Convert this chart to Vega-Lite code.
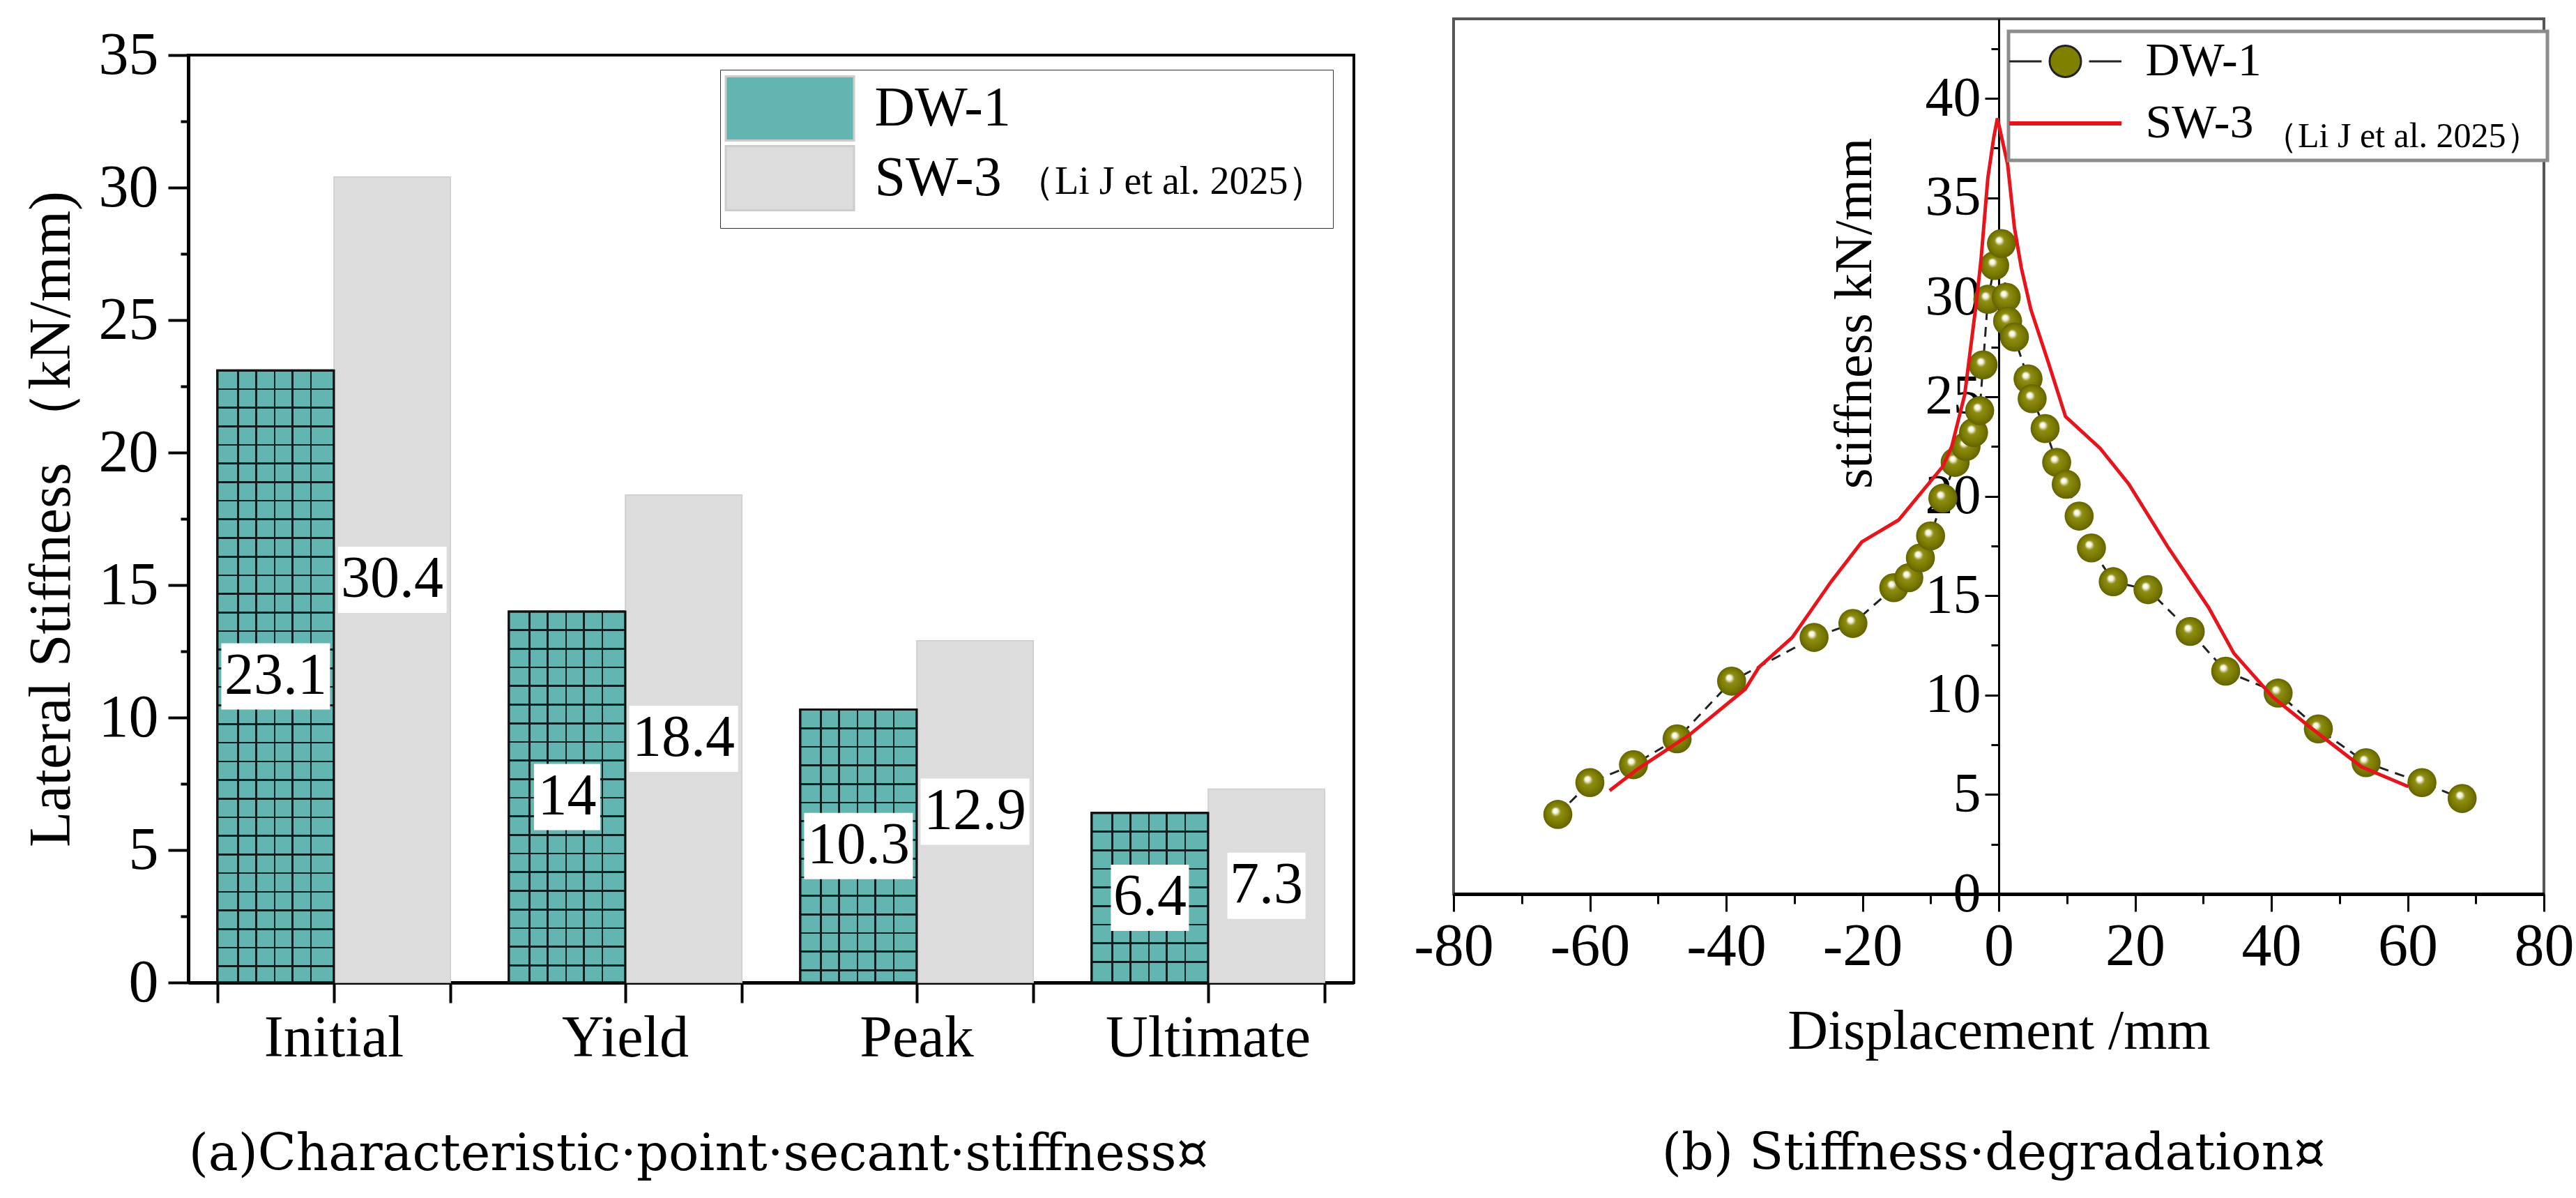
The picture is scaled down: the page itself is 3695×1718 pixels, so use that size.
{
  "$schema": "https://vega.github.io/schema/vega-lite/v6.json",
  "padding": {"left": 30, "top": 25, "right": 5, "bottom": 5},
  "background": "#ffffff",
  "config": {"view": {"stroke": null}, "axis": {"grid": false}, "legend": {"labelLimit": 0, "titleLimit": 0}},
  "datasets": {
    "bars": [
      {"stage": "Initial", "series": "DW-1", "value": 23.1},
      {"stage": "Initial", "series": "SW-3", "value": 30.4},
      {"stage": "Yield", "series": "DW-1", "value": 14},
      {"stage": "Yield", "series": "SW-3", "value": 18.4},
      {"stage": "Peak", "series": "DW-1", "value": 10.3},
      {"stage": "Peak", "series": "SW-3", "value": 12.9},
      {"stage": "Ultimate", "series": "DW-1", "value": 6.4},
      {"stage": "Ultimate", "series": "SW-3", "value": 7.3}
    ],
    "curve": [
      {"series": "DW-1", "disp": -64.7, "k": 4.0},
      {"series": "DW-1", "disp": -60.0, "k": 5.6},
      {"series": "DW-1", "disp": -53.6, "k": 6.5},
      {"series": "DW-1", "disp": -47.2, "k": 7.8},
      {"series": "DW-1", "disp": -39.2, "k": 10.7},
      {"series": "DW-1", "disp": -27.1, "k": 12.9},
      {"series": "DW-1", "disp": -21.4, "k": 13.6},
      {"series": "DW-1", "disp": -15.4, "k": 15.4},
      {"series": "DW-1", "disp": -13.2, "k": 15.9},
      {"series": "DW-1", "disp": -11.5, "k": 16.9},
      {"series": "DW-1", "disp": -10.0, "k": 18.0},
      {"series": "DW-1", "disp": -8.2, "k": 19.9},
      {"series": "DW-1", "disp": -6.4, "k": 21.7},
      {"series": "DW-1", "disp": -4.8, "k": 22.5},
      {"series": "DW-1", "disp": -3.7, "k": 23.2},
      {"series": "DW-1", "disp": -2.8, "k": 24.3},
      {"series": "DW-1", "disp": -2.3, "k": 26.6},
      {"series": "DW-1", "disp": -1.6, "k": 29.9},
      {"series": "DW-1", "disp": -0.6, "k": 31.6},
      {"series": "DW-1", "disp": 0.4, "k": 32.7},
      {"series": "DW-1", "disp": 1.1, "k": 30.0},
      {"series": "DW-1", "disp": 1.3, "k": 28.8},
      {"series": "DW-1", "disp": 2.3, "k": 28.0},
      {"series": "DW-1", "disp": 4.3, "k": 25.9},
      {"series": "DW-1", "disp": 4.9, "k": 24.9},
      {"series": "DW-1", "disp": 6.8, "k": 23.4},
      {"series": "DW-1", "disp": 8.5, "k": 21.7},
      {"series": "DW-1", "disp": 9.9, "k": 20.6},
      {"series": "DW-1", "disp": 11.8, "k": 19.0},
      {"series": "DW-1", "disp": 13.6, "k": 17.4},
      {"series": "DW-1", "disp": 16.8, "k": 15.7},
      {"series": "DW-1", "disp": 21.9, "k": 15.3},
      {"series": "DW-1", "disp": 28.1, "k": 13.2},
      {"series": "DW-1", "disp": 33.3, "k": 11.2},
      {"series": "DW-1", "disp": 41.0, "k": 10.1},
      {"series": "DW-1", "disp": 46.9, "k": 8.3},
      {"series": "DW-1", "disp": 53.9, "k": 6.6},
      {"series": "DW-1", "disp": 62.1, "k": 5.6},
      {"series": "DW-1", "disp": 68.0, "k": 4.8},
      {"series": "SW-3", "disp": -57.1, "k": 5.2},
      {"series": "SW-3", "disp": -52.9, "k": 6.3},
      {"series": "SW-3", "disp": -45.4, "k": 8.0},
      {"series": "SW-3", "disp": -37.2, "k": 10.3},
      {"series": "SW-3", "disp": -35.2, "k": 11.4},
      {"series": "SW-3", "disp": -30.3, "k": 12.9},
      {"series": "SW-3", "disp": -24.6, "k": 15.7},
      {"series": "SW-3", "disp": -20.1, "k": 17.7},
      {"series": "SW-3", "disp": -14.7, "k": 18.8},
      {"series": "SW-3", "disp": -8.2, "k": 21.5},
      {"series": "SW-3", "disp": -6.9, "k": 22.5},
      {"series": "SW-3", "disp": -5.0, "k": 25.1},
      {"series": "SW-3", "disp": -3.3, "k": 29.7},
      {"series": "SW-3", "disp": -2.6, "k": 31.9},
      {"series": "SW-3", "disp": -1.6, "k": 36.0},
      {"series": "SW-3", "disp": -0.75, "k": 38.0},
      {"series": "SW-3", "disp": -0.2, "k": 39.0},
      {"series": "SW-3", "disp": 1.3, "k": 36.7},
      {"series": "SW-3", "disp": 2.3, "k": 33.5},
      {"series": "SW-3", "disp": 3.3, "k": 31.5},
      {"series": "SW-3", "disp": 4.7, "k": 29.4},
      {"series": "SW-3", "disp": 7.3, "k": 26.7},
      {"series": "SW-3", "disp": 9.8, "k": 24.0},
      {"series": "SW-3", "disp": 14.9, "k": 22.4},
      {"series": "SW-3", "disp": 19.1, "k": 20.6},
      {"series": "SW-3", "disp": 24.9, "k": 17.4},
      {"series": "SW-3", "disp": 30.8, "k": 14.4},
      {"series": "SW-3", "disp": 34.5, "k": 12.1},
      {"series": "SW-3", "disp": 40.2, "k": 9.9},
      {"series": "SW-3", "disp": 46.0, "k": 8.3},
      {"series": "SW-3", "disp": 53.2, "k": 6.4},
      {"series": "SW-3", "disp": 60.1, "k": 5.4}
    ]
  },
  "spacing": 81,
  "resolve": {"scale": {"fill": "independent", "stroke": "independent", "color": "independent"}, "legend": {"fill": "independent", "stroke": "independent"}},
  "hconcat": [
    {
      "spacing": 0,
      "vconcat": [
        {
          "width": 1672,
          "height": 7,
          "data": {"values": [{"blank": 0}]},
          "mark": {"type": "point", "opacity": 0},
          "encoding": {}
        },
        {
          "width": 1672,
          "height": 1330,
          "data": {"name": "bars"},
          "view": {"stroke": "#000000", "strokeWidth": 4},
          "title": {"text": "(a)Characteristic·point·secant·stiffness¤", "orient": "bottom", "anchor": "middle", "frame": "bounds", "font": "DejaVu Serif", "fontSize": 72, "fontWeight": "normal", "color": "#000000", "offset": 90, "dx": 15},
          "resolve": {"axis": {"x": "independent", "y": "independent"}},
          "layer": [
            {
              "mark": {"type": "bar"},
              "encoding": {
                "x": {"field": "stage", "type": "nominal", "sort": ["Initial", "Yield", "Peak", "Ultimate"], "scale": {"paddingInner": 0.2, "paddingOuter": 0.1},
                  "axis": {"orient": "bottom", "labelAngle": 0, "labelLimit": 600, "labelFont": "Liberation Serif", "labelFontSize": 84, "labelColor": "#000000", "labelPadding": 10, "tickSize": 29, "tickWidth": 4, "tickColor": "#000000", "domainWidth": 5, "domainColor": "#000000", "title": null, "grid": false}},
                "xOffset": {"field": "series", "type": "nominal", "scale": {"paddingInner": 0, "paddingOuter": 0}},
                "y": {"field": "value", "type": "quantitative", "scale": {"domain": [0, 35], "nice": false},
                  "axis": {"values": [0, 5, 10, 15, 20, 25, 30, 35], "tickSize": 29, "tickWidth": 4, "tickColor": "#000000", "domainWidth": 5, "domainColor": "#000000", "labelFont": "Liberation Serif", "labelFontSize": 86, "labelColor": "#000000", "labelPadding": 14, "labelFlush": false, "labelOverlap": false, "grid": false, "title": "Lateral Stiffness （kN/mm)", "titleFont": "Liberation Serif", "titleFontSize": 84, "titleFontWeight": "normal", "titleColor": "#000000", "titleX": -153}},
                "fill": {"field": "series", "type": "nominal", "scale": {"range": ["#62b5b0", "#dcdcdc"]},
                  "legend": {"orient": "none", "legendX": 763, "legendY": 73, "direction": "vertical", "title": ["（Li J et al. 2025）\u2003", "\u2003"], "titleLineHeight": 30, "titleOrient": "right", "titleAngle": 0, "titleAnchor": "end", "titleBaseline": "alphabetic", "titleFont": "Liberation Serif", "titleFontSize": 56, "titleFontWeight": "normal", "titleColor": "#000000", "titlePadding": 7, "labelFont": "Liberation Serif", "labelFontSize": 80, "labelColor": "#000000", "symbolType": "M-2,-1H2V1H-2Z", "symbolSize": 8464, "symbolStrokeWidth": 3, "symbolOffset": 44.5, "labelOffset": 74, "rowPadding": -10, "padding": 8, "strokeColor": "#333333", "fillColor": "#ffffff",
                    "encode": {"symbols": {"update": {"stroke": {"signal": "datum.value === 'DW-1' ? '#111111' : '#d0d0d0'"}, "strokeWidth": {"value": 3}, "opacity": {"value": 1}}}, "legend": {"update": {"strokeWidth": {"value": 3}}}}}},
                "stroke": {"condition": {"test": "datum.series === 'DW-1'", "value": "#111111"}, "value": "#cccccc"},
                "strokeWidth": {"condition": {"test": "datum.series === 'DW-1'", "value": 3}, "value": 1.5}
              }
            },
            {
              "transform": [{"filter": "datum.series === 'DW-1'"}],
              "mark": {"type": "bar", "fill": {"gradient": "linear", "x1": 0, "y1": 0, "x2": 1, "y2": 0, "stops": [
                      {"offset": 0.168, "color": "transparent"}, {"offset": 0.168, "color": "#0b2020"}, {"offset": 0.184, "color": "#0b2020"}, {"offset": 0.184, "color": "transparent"},
                      {"offset": 0.325, "color": "transparent"}, {"offset": 0.325, "color": "#0b2020"}, {"offset": 0.341, "color": "#0b2020"}, {"offset": 0.341, "color": "transparent"},
                      {"offset": 0.483, "color": "transparent"}, {"offset": 0.483, "color": "#0b2020"}, {"offset": 0.499, "color": "#0b2020"}, {"offset": 0.499, "color": "transparent"},
                      {"offset": 0.637, "color": "transparent"}, {"offset": 0.637, "color": "#0b2020"}, {"offset": 0.653, "color": "#0b2020"}, {"offset": 0.653, "color": "transparent"},
                      {"offset": 0.795, "color": "transparent"}, {"offset": 0.795, "color": "#0b2020"}, {"offset": 0.811, "color": "#0b2020"}, {"offset": 0.811, "color": "transparent"}]}},
              "encoding": {
                "x": {"field": "stage", "type": "nominal", "sort": ["Initial", "Yield", "Peak", "Ultimate"], "axis": null},
                "xOffset": {"field": "series", "type": "nominal"},
                "y": {"field": "value", "type": "quantitative", "axis": null}
              }
            },
            {
              "transform": [{"filter": "datum.series === 'DW-1'"}],
              "mark": {"type": "bar", "stroke": "#111111", "strokeWidth": 3},
              "encoding": {
                "x": {"field": "stage", "type": "nominal", "sort": ["Initial", "Yield", "Peak", "Ultimate"], "axis": null},
                "xOffset": {"field": "series", "type": "nominal"},
                "y": {"field": "value", "type": "quantitative", "axis": {"orient": "left", "values": [2.5, 7.5, 12.5, 17.5, 22.5, 27.5, 32.5], "labels": false, "domain": false, "ticks": true, "tickSize": 11, "tickWidth": 4, "tickColor": "#000000", "title": null, "grid": false}},
                "fill": {"condition": [
                  {"test": "datum.stage === 'Initial'", "value": {"gradient": "linear", "x1": 0, "y1": 0, "x2": 0, "y2": 1, "stops": [
                    {"offset": 0.0289, "color": "transparent"}, {"offset": 0.0289, "color": "#0b2020"}, {"offset": 0.0319, "color": "#0b2020"}, {"offset": 0.0319, "color": "transparent"},
                    {"offset": 0.0593, "color": "transparent"}, {"offset": 0.0593, "color": "#0b2020"}, {"offset": 0.0623, "color": "#0b2020"}, {"offset": 0.0623, "color": "transparent"},
                    {"offset": 0.0898, "color": "transparent"}, {"offset": 0.0898, "color": "#0b2020"}, {"offset": 0.0928, "color": "#0b2020"}, {"offset": 0.0928, "color": "transparent"},
                    {"offset": 0.1202, "color": "transparent"}, {"offset": 0.1202, "color": "#0b2020"}, {"offset": 0.1232, "color": "#0b2020"}, {"offset": 0.1232, "color": "transparent"},
                    {"offset": 0.1506, "color": "transparent"}, {"offset": 0.1506, "color": "#0b2020"}, {"offset": 0.1536, "color": "#0b2020"}, {"offset": 0.1536, "color": "transparent"},
                    {"offset": 0.1810, "color": "transparent"}, {"offset": 0.1810, "color": "#0b2020"}, {"offset": 0.1840, "color": "#0b2020"}, {"offset": 0.1840, "color": "transparent"},
                    {"offset": 0.2114, "color": "transparent"}, {"offset": 0.2114, "color": "#0b2020"}, {"offset": 0.2144, "color": "#0b2020"}, {"offset": 0.2144, "color": "transparent"},
                    {"offset": 0.2418, "color": "transparent"}, {"offset": 0.2418, "color": "#0b2020"}, {"offset": 0.2448, "color": "#0b2020"}, {"offset": 0.2448, "color": "transparent"},
                    {"offset": 0.2723, "color": "transparent"}, {"offset": 0.2723, "color": "#0b2020"}, {"offset": 0.2753, "color": "#0b2020"}, {"offset": 0.2753, "color": "transparent"},
                    {"offset": 0.3027, "color": "transparent"}, {"offset": 0.3027, "color": "#0b2020"}, {"offset": 0.3057, "color": "#0b2020"}, {"offset": 0.3057, "color": "transparent"},
                    {"offset": 0.3331, "color": "transparent"}, {"offset": 0.3331, "color": "#0b2020"}, {"offset": 0.3361, "color": "#0b2020"}, {"offset": 0.3361, "color": "transparent"},
                    {"offset": 0.3635, "color": "transparent"}, {"offset": 0.3635, "color": "#0b2020"}, {"offset": 0.3665, "color": "#0b2020"}, {"offset": 0.3665, "color": "transparent"},
                    {"offset": 0.3939, "color": "transparent"}, {"offset": 0.3939, "color": "#0b2020"}, {"offset": 0.3969, "color": "#0b2020"}, {"offset": 0.3969, "color": "transparent"},
                    {"offset": 0.4243, "color": "transparent"}, {"offset": 0.4243, "color": "#0b2020"}, {"offset": 0.4273, "color": "#0b2020"}, {"offset": 0.4273, "color": "transparent"},
                    {"offset": 0.4548, "color": "transparent"}, {"offset": 0.4548, "color": "#0b2020"}, {"offset": 0.4578, "color": "#0b2020"}, {"offset": 0.4578, "color": "transparent"},
                    {"offset": 0.4852, "color": "transparent"}, {"offset": 0.4852, "color": "#0b2020"}, {"offset": 0.4882, "color": "#0b2020"}, {"offset": 0.4882, "color": "transparent"},
                    {"offset": 0.5156, "color": "transparent"}, {"offset": 0.5156, "color": "#0b2020"}, {"offset": 0.5186, "color": "#0b2020"}, {"offset": 0.5186, "color": "transparent"},
                    {"offset": 0.5460, "color": "transparent"}, {"offset": 0.5460, "color": "#0b2020"}, {"offset": 0.5490, "color": "#0b2020"}, {"offset": 0.5490, "color": "transparent"},
                    {"offset": 0.5764, "color": "transparent"}, {"offset": 0.5764, "color": "#0b2020"}, {"offset": 0.5794, "color": "#0b2020"}, {"offset": 0.5794, "color": "transparent"},
                    {"offset": 0.6068, "color": "transparent"}, {"offset": 0.6068, "color": "#0b2020"}, {"offset": 0.6098, "color": "#0b2020"}, {"offset": 0.6098, "color": "transparent"},
                    {"offset": 0.6373, "color": "transparent"}, {"offset": 0.6373, "color": "#0b2020"}, {"offset": 0.6403, "color": "#0b2020"}, {"offset": 0.6403, "color": "transparent"},
                    {"offset": 0.6677, "color": "transparent"}, {"offset": 0.6677, "color": "#0b2020"}, {"offset": 0.6707, "color": "#0b2020"}, {"offset": 0.6707, "color": "transparent"},
                    {"offset": 0.6981, "color": "transparent"}, {"offset": 0.6981, "color": "#0b2020"}, {"offset": 0.7011, "color": "#0b2020"}, {"offset": 0.7011, "color": "transparent"},
                    {"offset": 0.7285, "color": "transparent"}, {"offset": 0.7285, "color": "#0b2020"}, {"offset": 0.7315, "color": "#0b2020"}, {"offset": 0.7315, "color": "transparent"},
                    {"offset": 0.7589, "color": "transparent"}, {"offset": 0.7589, "color": "#0b2020"}, {"offset": 0.7619, "color": "#0b2020"}, {"offset": 0.7619, "color": "transparent"},
                    {"offset": 0.7893, "color": "transparent"}, {"offset": 0.7893, "color": "#0b2020"}, {"offset": 0.7923, "color": "#0b2020"}, {"offset": 0.7923, "color": "transparent"},
                    {"offset": 0.8198, "color": "transparent"}, {"offset": 0.8198, "color": "#0b2020"}, {"offset": 0.8228, "color": "#0b2020"}, {"offset": 0.8228, "color": "transparent"},
                    {"offset": 0.8502, "color": "transparent"}, {"offset": 0.8502, "color": "#0b2020"}, {"offset": 0.8532, "color": "#0b2020"}, {"offset": 0.8532, "color": "transparent"},
                    {"offset": 0.8806, "color": "transparent"}, {"offset": 0.8806, "color": "#0b2020"}, {"offset": 0.8836, "color": "#0b2020"}, {"offset": 0.8836, "color": "transparent"},
                    {"offset": 0.9110, "color": "transparent"}, {"offset": 0.9110, "color": "#0b2020"}, {"offset": 0.9140, "color": "#0b2020"}, {"offset": 0.9140, "color": "transparent"},
                    {"offset": 0.9414, "color": "transparent"}, {"offset": 0.9414, "color": "#0b2020"}, {"offset": 0.9444, "color": "#0b2020"}, {"offset": 0.9444, "color": "transparent"},
                    {"offset": 0.9718, "color": "transparent"}, {"offset": 0.9718, "color": "#0b2020"}, {"offset": 0.9748, "color": "#0b2020"}, {"offset": 0.9748, "color": "transparent"}]}},
                  {"test": "datum.stage === 'Yield'", "value": {"gradient": "linear", "x1": 0, "y1": 0, "x2": 0, "y2": 1, "stops": [
                    {"offset": 0.0477, "color": "transparent"}, {"offset": 0.0477, "color": "#0b2020"}, {"offset": 0.0527, "color": "#0b2020"}, {"offset": 0.0527, "color": "transparent"},
                    {"offset": 0.0979, "color": "transparent"}, {"offset": 0.0979, "color": "#0b2020"}, {"offset": 0.1029, "color": "#0b2020"}, {"offset": 0.1029, "color": "transparent"},
                    {"offset": 0.1481, "color": "transparent"}, {"offset": 0.1481, "color": "#0b2020"}, {"offset": 0.1531, "color": "#0b2020"}, {"offset": 0.1531, "color": "transparent"},
                    {"offset": 0.1983, "color": "transparent"}, {"offset": 0.1983, "color": "#0b2020"}, {"offset": 0.2033, "color": "#0b2020"}, {"offset": 0.2033, "color": "transparent"},
                    {"offset": 0.2484, "color": "transparent"}, {"offset": 0.2484, "color": "#0b2020"}, {"offset": 0.2534, "color": "#0b2020"}, {"offset": 0.2534, "color": "transparent"},
                    {"offset": 0.2986, "color": "transparent"}, {"offset": 0.2986, "color": "#0b2020"}, {"offset": 0.3036, "color": "#0b2020"}, {"offset": 0.3036, "color": "transparent"},
                    {"offset": 0.3488, "color": "transparent"}, {"offset": 0.3488, "color": "#0b2020"}, {"offset": 0.3538, "color": "#0b2020"}, {"offset": 0.3538, "color": "transparent"},
                    {"offset": 0.3990, "color": "transparent"}, {"offset": 0.3990, "color": "#0b2020"}, {"offset": 0.4040, "color": "#0b2020"}, {"offset": 0.4040, "color": "transparent"},
                    {"offset": 0.4492, "color": "transparent"}, {"offset": 0.4492, "color": "#0b2020"}, {"offset": 0.4542, "color": "#0b2020"}, {"offset": 0.4542, "color": "transparent"},
                    {"offset": 0.4994, "color": "transparent"}, {"offset": 0.4994, "color": "#0b2020"}, {"offset": 0.5044, "color": "#0b2020"}, {"offset": 0.5044, "color": "transparent"},
                    {"offset": 0.5496, "color": "transparent"}, {"offset": 0.5496, "color": "#0b2020"}, {"offset": 0.5546, "color": "#0b2020"}, {"offset": 0.5546, "color": "transparent"},
                    {"offset": 0.5998, "color": "transparent"}, {"offset": 0.5998, "color": "#0b2020"}, {"offset": 0.6048, "color": "#0b2020"}, {"offset": 0.6048, "color": "transparent"},
                    {"offset": 0.6499, "color": "transparent"}, {"offset": 0.6499, "color": "#0b2020"}, {"offset": 0.6549, "color": "#0b2020"}, {"offset": 0.6549, "color": "transparent"},
                    {"offset": 0.7001, "color": "transparent"}, {"offset": 0.7001, "color": "#0b2020"}, {"offset": 0.7051, "color": "#0b2020"}, {"offset": 0.7051, "color": "transparent"},
                    {"offset": 0.7503, "color": "transparent"}, {"offset": 0.7503, "color": "#0b2020"}, {"offset": 0.7553, "color": "#0b2020"}, {"offset": 0.7553, "color": "transparent"},
                    {"offset": 0.8005, "color": "transparent"}, {"offset": 0.8005, "color": "#0b2020"}, {"offset": 0.8055, "color": "#0b2020"}, {"offset": 0.8055, "color": "transparent"},
                    {"offset": 0.8507, "color": "transparent"}, {"offset": 0.8507, "color": "#0b2020"}, {"offset": 0.8557, "color": "#0b2020"}, {"offset": 0.8557, "color": "transparent"},
                    {"offset": 0.9009, "color": "transparent"}, {"offset": 0.9009, "color": "#0b2020"}, {"offset": 0.9059, "color": "#0b2020"}, {"offset": 0.9059, "color": "transparent"},
                    {"offset": 0.9511, "color": "transparent"}, {"offset": 0.9511, "color": "#0b2020"}, {"offset": 0.9561, "color": "#0b2020"}, {"offset": 0.9561, "color": "transparent"}]}},
                  {"test": "datum.stage === 'Peak'", "value": {"gradient": "linear", "x1": 0, "y1": 0, "x2": 0, "y2": 1, "stops": [
                    {"offset": 0.0648, "color": "transparent"}, {"offset": 0.0648, "color": "#0b2020"}, {"offset": 0.0716, "color": "#0b2020"}, {"offset": 0.0716, "color": "transparent"},
                    {"offset": 0.1330, "color": "transparent"}, {"offset": 0.1330, "color": "#0b2020"}, {"offset": 0.1398, "color": "#0b2020"}, {"offset": 0.1398, "color": "transparent"},
                    {"offset": 0.2013, "color": "transparent"}, {"offset": 0.2013, "color": "#0b2020"}, {"offset": 0.2081, "color": "#0b2020"}, {"offset": 0.2081, "color": "transparent"},
                    {"offset": 0.2695, "color": "transparent"}, {"offset": 0.2695, "color": "#0b2020"}, {"offset": 0.2763, "color": "#0b2020"}, {"offset": 0.2763, "color": "transparent"},
                    {"offset": 0.3377, "color": "transparent"}, {"offset": 0.3377, "color": "#0b2020"}, {"offset": 0.3445, "color": "#0b2020"}, {"offset": 0.3445, "color": "transparent"},
                    {"offset": 0.4059, "color": "transparent"}, {"offset": 0.4059, "color": "#0b2020"}, {"offset": 0.4127, "color": "#0b2020"}, {"offset": 0.4127, "color": "transparent"},
                    {"offset": 0.4741, "color": "transparent"}, {"offset": 0.4741, "color": "#0b2020"}, {"offset": 0.4809, "color": "#0b2020"}, {"offset": 0.4809, "color": "transparent"},
                    {"offset": 0.5423, "color": "transparent"}, {"offset": 0.5423, "color": "#0b2020"}, {"offset": 0.5491, "color": "#0b2020"}, {"offset": 0.5491, "color": "transparent"},
                    {"offset": 0.6106, "color": "transparent"}, {"offset": 0.6106, "color": "#0b2020"}, {"offset": 0.6174, "color": "#0b2020"}, {"offset": 0.6174, "color": "transparent"},
                    {"offset": 0.6788, "color": "transparent"}, {"offset": 0.6788, "color": "#0b2020"}, {"offset": 0.6856, "color": "#0b2020"}, {"offset": 0.6856, "color": "transparent"},
                    {"offset": 0.7470, "color": "transparent"}, {"offset": 0.7470, "color": "#0b2020"}, {"offset": 0.7538, "color": "#0b2020"}, {"offset": 0.7538, "color": "transparent"},
                    {"offset": 0.8152, "color": "transparent"}, {"offset": 0.8152, "color": "#0b2020"}, {"offset": 0.8220, "color": "#0b2020"}, {"offset": 0.8220, "color": "transparent"},
                    {"offset": 0.8834, "color": "transparent"}, {"offset": 0.8834, "color": "#0b2020"}, {"offset": 0.8902, "color": "#0b2020"}, {"offset": 0.8902, "color": "transparent"},
                    {"offset": 0.9516, "color": "transparent"}, {"offset": 0.9516, "color": "#0b2020"}, {"offset": 0.9584, "color": "#0b2020"}, {"offset": 0.9584, "color": "transparent"}]}}
                ],
                "value": {"gradient": "linear", "x1": 0, "y1": 0, "x2": 0, "y2": 1, "stops": [
                    {"offset": 0.1043, "color": "transparent"}, {"offset": 0.1043, "color": "#0b2020"}, {"offset": 0.1153, "color": "#0b2020"}, {"offset": 0.1153, "color": "transparent"},
                    {"offset": 0.2141, "color": "transparent"}, {"offset": 0.2141, "color": "#0b2020"}, {"offset": 0.2251, "color": "#0b2020"}, {"offset": 0.2251, "color": "transparent"},
                    {"offset": 0.3239, "color": "transparent"}, {"offset": 0.3239, "color": "#0b2020"}, {"offset": 0.3349, "color": "#0b2020"}, {"offset": 0.3349, "color": "transparent"},
                    {"offset": 0.4336, "color": "transparent"}, {"offset": 0.4336, "color": "#0b2020"}, {"offset": 0.4446, "color": "#0b2020"}, {"offset": 0.4446, "color": "transparent"},
                    {"offset": 0.5434, "color": "transparent"}, {"offset": 0.5434, "color": "#0b2020"}, {"offset": 0.5544, "color": "#0b2020"}, {"offset": 0.5544, "color": "transparent"},
                    {"offset": 0.6532, "color": "transparent"}, {"offset": 0.6532, "color": "#0b2020"}, {"offset": 0.6642, "color": "#0b2020"}, {"offset": 0.6642, "color": "transparent"},
                    {"offset": 0.7630, "color": "transparent"}, {"offset": 0.7630, "color": "#0b2020"}, {"offset": 0.7740, "color": "#0b2020"}, {"offset": 0.7740, "color": "transparent"},
                    {"offset": 0.8728, "color": "transparent"}, {"offset": 0.8728, "color": "#0b2020"}, {"offset": 0.8838, "color": "#0b2020"}, {"offset": 0.8838, "color": "transparent"}]}}
              }
            },
            {
              "mark": {"type": "tick", "thickness": 95, "color": "#ffffff", "opacity": 1},
              "encoding": {
                "x": {"field": "stage", "type": "nominal", "sort": ["Initial", "Yield", "Peak", "Ultimate"], "axis": null},
                "xOffset": {"field": "series", "type": "nominal"},
                "y": {"field": "value", "type": "quantitative", "stack": "zero", "bandPosition": 0.5, "axis": null},
                "size": {"condition": [{"test": "length(toString(datum.value)) <= 2", "value": 95}, {"test": "length(toString(datum.value)) === 3", "value": 112}], "value": 156}
              }
            },
            {
              "mark": {"type": "text", "font": "Liberation Serif", "fontSize": 84, "baseline": "middle", "align": "center", "color": "#000000"},
              "encoding": {
                "x": {"field": "stage", "type": "nominal", "sort": ["Initial", "Yield", "Peak", "Ultimate"], "axis": {"orient": "bottom", "tickBand": "extent", "labels": false, "domain": false, "ticks": true, "tickSize": 29, "tickWidth": 4, "tickColor": "#000000", "title": null, "grid": false}},
                "xOffset": {"field": "series", "type": "nominal"},
                "y": {"field": "value", "type": "quantitative", "stack": "zero", "bandPosition": 0.5, "axis": null},
                "text": {"field": "value", "type": "quantitative"}
              }
            }
          ]
        }
      ]
    },
    {
      "width": 1564,
      "height": 1255,
      "data": {"name": "curve"},
      "view": {"stroke": "#555555", "strokeWidth": 4},
      "title": {"text": "(b) Stiffness·degradation¤", "orient": "bottom", "anchor": "middle", "frame": "bounds", "font": "DejaVu Serif", "fontSize": 72, "fontWeight": "normal", "color": "#000000", "offset": 101},
      "resolve": {"axis": {"x": "independent", "y": "independent"}},
      "layer": [
        {
          "transform": [{"filter": "datum.series === 'DW-1'"}],
          "mark": {"type": "line", "strokeDash": [14, 10], "strokeWidth": 3},
          "encoding": {
            "x": {"field": "disp", "type": "quantitative", "scale": {"domain": [-80, 80], "nice": false, "zero": false},
              "axis": {"orient": "bottom", "values": [-80, -60, -40, -20, 0, 20, 40, 60, 80], "labelExpr": "toString(datum.value)", "tickSize": 25, "tickWidth": 3, "tickColor": "#000000", "domainWidth": 5, "domainColor": "#000000", "labelFont": "Liberation Serif", "labelFontSize": 86, "labelColor": "#000000", "labelPadding": 8, "labelFlush": false, "labelOverlap": false, "grid": false, "title": "Displacement /mm", "titleFont": "Liberation Serif", "titleFontSize": 80, "titleFontWeight": "normal", "titleColor": "#000000", "titlePadding": 40}},
            "y": {"field": "k", "type": "quantitative", "scale": {"domain": [0, 44], "nice": false},
              "axis": {"orient": "left", "values": [0, 5, 10, 15, 20, 25, 30, 35, 40], "tickSize": 20, "tickWidth": 3, "tickColor": "#000000", "domainWidth": 3, "domainColor": "#000000", "offset": -782, "labelFont": "Liberation Serif", "labelFontSize": 80, "labelColor": "#000000", "labelPadding": 6, "labelFlush": false, "labelOverlap": false, "grid": false, "title": "stiffness kN/mm", "titleFont": "Liberation Serif", "titleFontSize": 76, "titleFontWeight": "normal", "titleColor": "#000000", "titleX": -168, "titleY": 422}},
            "stroke": {"field": "series", "type": "nominal", "scale": {"range": ["#222222", "#e8141c"]},
              "legend": {"orient": "none", "legendX": 796, "legendY": 18, "direction": "vertical", "title": "（Li J et al. 2025）\u2002", "titleOrient": "right", "titleAngle": 0, "titleAnchor": "end", "titleBaseline": "alphabetic", "titleFont": "Liberation Serif", "titleFontSize": 50, "titleFontWeight": "normal", "titleColor": "#000000", "titlePadding": 2, "labelFont": "Liberation Serif", "labelFontSize": 68, "labelColor": "#000000", "symbolType": "M-2,0H2", "symbolSize": 6480, "symbolStrokeWidth": 3, "symbolOffset": 38.5, "labelOffset": 81, "rowPadding": 21, "padding": 9, "strokeColor": "#8c8c8c", "fillColor": "#ffffff",
                "encode": {"symbols": {"update": {"shape": {"signal": "datum.value === 'DW-1' ? 'M-2,0H-0.845M0.845,0H2M-0.559,0A0.559,0.559 0 1,1 0.559,0A0.559,0.559 0 1,1 -0.559,0Z' : 'M-2,0H2'"}, "fill": {"signal": "datum.value === 'DW-1' ? '#7f7f00' : 'transparent'"}, "stroke": {"signal": "datum.value === 'DW-1' ? '#333333' : '#e8141c'"}, "strokeWidth": {"signal": "datum.value === 'DW-1' ? 3 : 6"}, "strokeDash": {"value": []}, "opacity": {"value": 1}}}, "legend": {"update": {"strokeWidth": {"value": 5}}}}}}
          }
        },
        {
          "transform": [{"filter": "datum.series === 'DW-1'"}],
          "mark": {"type": "circle", "size": 1735, "opacity": 1, "fill": {"gradient": "radial", "x1": 0.4, "y1": 0.36, "r1": 0, "x2": 0.5, "y2": 0.5, "r2": 0.5, "stops": [{"offset": 0, "color": "#ffffff"}, {"offset": 0.16, "color": "#f4f4dc"}, {"offset": 0.34, "color": "#8e8e16"}, {"offset": 0.72, "color": "#7a7a00"}, {"offset": 1, "color": "#626200"}]}},
          "encoding": {
            "x": {"field": "disp", "type": "quantitative", "axis": {"orient": "bottom", "values": [-70, -50, -30, -10, 10, 30, 50, 70], "labels": false, "domain": false, "ticks": true, "tickSize": 14, "tickWidth": 3, "tickColor": "#000000", "title": null, "grid": false}},
            "y": {"field": "k", "type": "quantitative", "axis": {"orient": "left", "values": [2.5, 7.5, 12.5, 17.5, 22.5, 27.5, 32.5, 37.5, 42.5], "offset": -782, "labels": false, "domain": false, "ticks": true, "tickSize": 11, "tickWidth": 3, "tickColor": "#000000", "title": null, "grid": false}}
          }
        },
        {
          "transform": [{"filter": "datum.series === 'SW-3'"}],
          "mark": {"type": "line", "strokeWidth": 5},
          "encoding": {
            "x": {"field": "disp", "type": "quantitative", "axis": null},
            "y": {"field": "k", "type": "quantitative", "axis": null},
            "stroke": {"field": "series", "type": "nominal", "scale": {"range": ["#222222", "#e8141c"]}}
          }
        }
      ]
    }
  ]
}
